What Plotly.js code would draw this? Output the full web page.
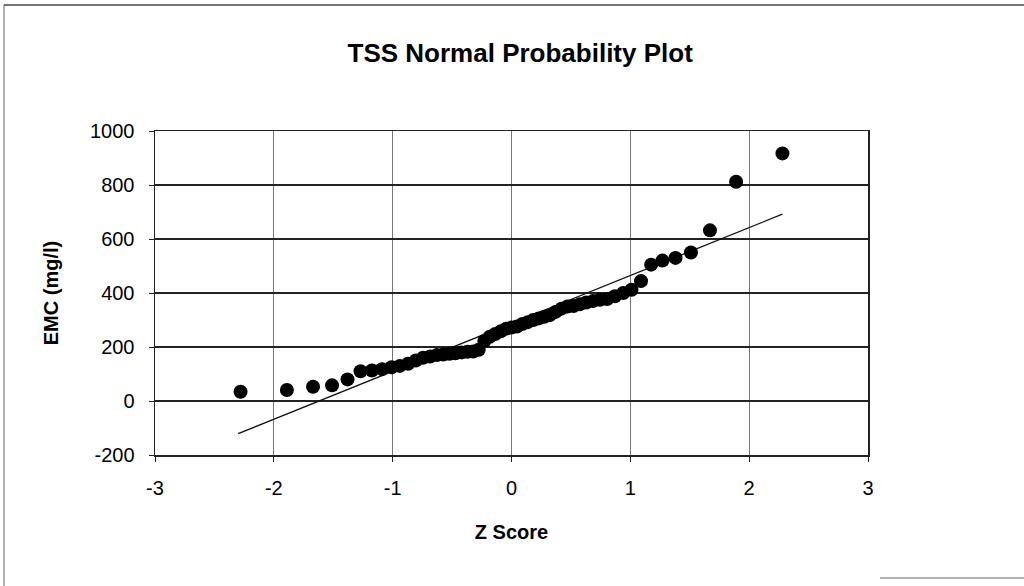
<!DOCTYPE html>
<html>
<head>
<meta charset="utf-8">
<script src="https://cdn.plot.ly/plotly-3.0.1.min.js"></script>
<style>
  html, body { margin: 0; padding: 0; background: #fff; }
  #chart { width: 1024px; height: 586px; }
</style>
</head>
<body>
<div id="chart"></div>
<script>
// Z scores (normal quantiles) and sorted EMC values
const zScores = [-2.28, -1.89, -1.67, -1.51, -1.38, -1.27, -1.175, -1.09, -1.01, -0.94,
  -0.87, -0.805, -0.744, -0.685, -0.629, -0.574, -0.522, -0.471, -0.42, -0.371,
  -0.323, -0.276, -0.229, -0.183, -0.137, -0.091, -0.045, 0, 0.045, 0.091,
  0.137, 0.183, 0.229, 0.276, 0.323, 0.371, 0.42, 0.471, 0.522, 0.574,
  0.629, 0.685, 0.744, 0.805, 0.87, 0.94, 1.01, 1.09, 1.175, 1.27,
  1.38, 1.51, 1.67, 1.89, 2.28];
const emcValues = [34, 41, 53, 58, 80, 110, 113, 118, 125, 130,
  138, 150, 160, 165, 170, 172, 175, 177, 180, 182,
  183, 190, 222, 238, 248, 258, 268, 272, 276, 285,
  292, 300, 306, 312, 318, 330, 342, 350, 352, 358,
  365, 370, 375, 378, 388, 400, 412, 444, 505, 520,
  530, 550, 632, 812, 917];
// Fitted normal line endpoints
const fitZ = [-2.3, 2.28];
const fitEMC = [-121, 692];

const xTicks = [-3, -2, -1, 0, 1, 2, 3];
const yTicks = [-200, 0, 200, 400, 600, 800, 1000];

const font = "Liberation Sans, Arial, sans-serif";

const traces = [
  {
    x: fitZ, y: fitEMC, type: 'scatter', mode: 'lines',
    line: { color: '#111', width: 1.3 }, hoverinfo: 'skip', showlegend: false
  },
  {
    x: zScores, y: emcValues, type: 'scatter', mode: 'markers',
    marker: { color: '#000', size: 14 }, showlegend: false
  }
];

const layout = {
  width: 1024, height: 586,
  margin: { l: 155, r: 156, t: 131, b: 131 },
  paper_bgcolor: '#fff', plot_bgcolor: '#fff',
  font: { family: font, color: '#000' },
  title: {
    text: '<b>TSS Normal Probability Plot</b>',
    font: { family: font, size: 26, color: '#000' },
    x: 0.508, xanchor: 'center', y: 0.91, yanchor: 'middle'
  },
  xaxis: {
    range: [-3, 3], tickvals: xTicks, ticktext: xTicks.map(String),
    showgrid: true, gridcolor: '#777', gridwidth: 1,
    showline: true, linecolor: '#222', linewidth: 1.5, mirror: true,
    ticks: 'outside', ticklen: 5, tickcolor: '#222',
    tickfont: { family: font, size: 20, color: '#000' },
    ticklabelstandoff: 9,
    zeroline: false,
    title: { text: '<b>Z Score</b>', font: { family: font, size: 20, color: '#000' }, standoff: 27 }
  },
  yaxis: {
    range: [-200, 1000], tickvals: yTicks, ticktext: yTicks.map(String),
    showgrid: true, gridcolor: '#222', gridwidth: 1.5,
    showline: true, linecolor: '#222', linewidth: 1.5, mirror: true,
    ticks: 'outside', ticklen: 5, tickcolor: '#222',
    tickfont: { family: font, size: 20, color: '#000' },
    ticklabelstandoff: 10,
    zeroline: false,
    title: { text: '<b>EMC (mg/l)</b>', font: { family: font, size: 20, color: '#000' }, standoff: 26 }
  },
  shapes: [
    { type: 'line', xref: 'paper', yref: 'paper', x0: -0.2118, x1: -0.2118, y0: 1.389, y1: -0.41, line: { color: '#999', width: 1.5 } },
    { type: 'line', xref: 'paper', yref: 'paper', x0: -0.2118, x1: 1.22, y0: 1.389, y1: 1.389, line: { color: '#444', width: 1.5 } },
    { type: 'line', xref: 'paper', yref: 'paper', x0: 1.0168, x1: 1.22, y0: -0.3796, y1: -0.3796, line: { color: '#999', width: 1.5 } }
  ]
};

Plotly.newPlot('chart', traces, layout, { displayModeBar: false, staticPlot: true });
</script>
</body>
</html>
